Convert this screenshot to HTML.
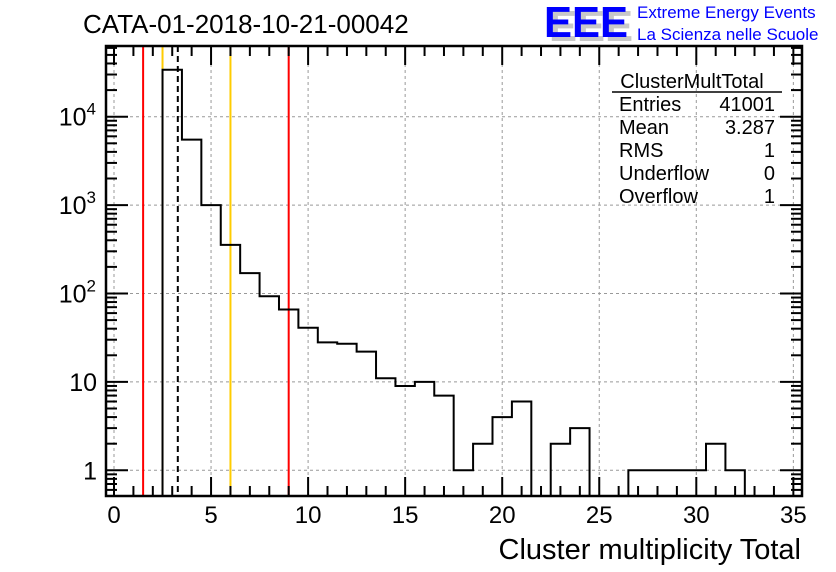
<!DOCTYPE html>
<html><head><meta charset="utf-8"><style>
html,body{margin:0;padding:0;background:#fff;}
svg{display:block;font-family:"Liberation Sans",Arial,sans-serif;}
</style></head><body>
<svg id="chart" width="836" height="572" viewBox="0 0 836 572">
<text x="83" y="33" font-size="26" fill="#000">CATA-01-2018-10-21-00042</text>
<g>
<text x="549" y="41" font-size="44" font-weight="bold" fill="#c8c8c8" textLength="84" lengthAdjust="spacingAndGlyphs">EEE</text>
<text x="544" y="37" font-size="44" font-weight="bold" fill="#0000ff" textLength="84" lengthAdjust="spacingAndGlyphs">EEE</text>
<text x="637" y="18" font-size="17" fill="#0000ff">Extreme Energy Events</text>
<text x="637" y="40" font-size="17" fill="#0000ff">La Scienza nelle Scuole</text>
</g>
<g id="grid"></g>
<g id="vlines"></g>
<g id="hist"></g>
<g id="axes"></g>
<g font-size="20" fill="#000">
<text x="692" y="88" text-anchor="middle">ClusterMultTotal</text>
<line x1="612" y1="92" x2="782" y2="92" stroke="#000" stroke-width="1.5"/>
<text x="619" y="111">Entries</text><text x="775" y="111" text-anchor="end">41001</text>
<text x="619" y="134">Mean</text><text x="775" y="134" text-anchor="end">3.287</text>
<text x="619" y="157">RMS</text><text x="775" y="157" text-anchor="end">1</text>
<text x="619" y="180">Underflow</text><text x="775" y="180" text-anchor="end">0</text>
<text x="619" y="203">Overflow</text><text x="775" y="203" text-anchor="end">1</text>
</g>
<text x="801" y="559" font-size="29" text-anchor="end">Cluster multiplicity Total</text>
</svg>
<script>
const binLow = [2.5,3.5,4.5,5.5,6.5,7.5,8.5,9.5,10.5,11.5,12.5,13.5,14.5,15.5,16.5,17.5,18.5,19.5,20.5,21.5,22.5,23.5,24.5,25.5,26.5,27.5,28.5,29.5,30.5,31.5,32.5];
const counts = [34000,5500,1000,355,170,93,66,41,28,27,22,11,9,10,7,1,2,4,6,0,2,3,0,0,1,1,1,1,2,1,0];
const xTicks = [0,5,10,15,20,25,30,35];
const yTicks = [1,10,100,1000,10000];
const yTickLabels = ["1","10","10²","10³","10⁴"];
const markerX = [1.5,2.5,3.287,6,9];
const markerColor = ["#ff0000","#ffcc00","#000","#ffcc00","#ff0000"];

const L=106,R=802,T=46,B=496;
const x0=114, xu=19.41;
function xs(v){return x0+v*xu;}
const y1=470.3, dec=88.4;
function ys(v){return y1-Math.log10(v)*dec;}
const NS="http://www.w3.org/2000/svg";
function mk(tag,attrs,parent){const e=document.createElementNS(NS,tag);for(const k in attrs)e.setAttribute(k,attrs[k]);parent.appendChild(e);return e;}
const grid=document.getElementById('grid'),axes=document.getElementById('axes'),hist=document.getElementById('hist'),vl=document.getElementById('vlines');

xTicks.forEach(v=>{const X=xs(v);
 if(X>L+2&&X<R-2){const g=mk('line',{x1:X,y1:T,x2:X,y2:B,stroke:'#999','stroke-dasharray':'3,3','stroke-width':1},grid);
 
 }
});
yTicks.forEach(v=>{const Y=ys(v);
 const g=mk('line',{x1:L,y1:Y,x2:R,y2:Y,stroke:'#999','stroke-dasharray':'3,3','stroke-width':1},grid);
 
 
});

markerX.forEach((v,i)=>{
 const a={x1:xs(v),y1:T,x2:xs(v),y2:B,stroke:markerColor[i],'stroke-width':2};
 if(markerColor[i]==='#000')a['stroke-dasharray']='6,4';
 const l=mk('line',a,vl);
 
 
});

let d='M'+xs(binLow[0])+','+B;
binLow.forEach((lo,i)=>{
 const v=counts[i]>0?ys(counts[i]):B;
 d+=' L'+xs(lo)+','+v+' L'+xs(lo+1)+','+v;
});
d+=' L'+xs(binLow[binLow.length-1]+1)+','+B;
const p=mk('path',{d:d,fill:'none',stroke:'#000','stroke-width':2},hist);



const fr=mk('rect',{x:L,y:T,width:R-L,height:B-T,fill:'none',stroke:'#000','stroke-width':2.5},axes);


for(let v=0;v<=35.01;v+=1){const X=xs(v);const big=(v%5===0);const len=big?19:10;
 mk('line',{x1:X,y1:B,x2:X,y2:B-len,stroke:'#000','stroke-width':2},axes);
 mk('line',{x1:X,y1:T,x2:X,y2:T+len,stroke:'#000','stroke-width':2},axes);
}
xTicks.forEach(v=>{const t=mk('text',{x:xs(v),y:523,'font-size':24,'text-anchor':'middle'},axes);t.textContent=v;
 
 });
for(let e=-1;e<=5;e++){for(let m=1;m<10;m++){const v=m*Math.pow(10,e);const Y=ys(v);if(Y<T||Y>B)continue;
 const len=m===1?22:11;
 mk('line',{x1:L,y1:Y,x2:L+len,y2:Y,stroke:'#000','stroke-width':2},axes);
 mk('line',{x1:R,y1:Y,x2:R-len,y2:Y,stroke:'#000','stroke-width':2},axes);
}}
yTicks.forEach((v,i)=>{const t=mk('text',{x:97,y:ys(v)+9,'font-size':25,'text-anchor':'end'},axes);
 const lab=yTickLabels[i];
 if(lab.length===3&&lab.startsWith('10')){t.textContent='10';const s=mk('tspan',{dy:-11,'font-size':17},t);s.textContent=['²','³','⁴'].indexOf(lab[2])+2;t.setAttribute('x',96);}
 else t.textContent=lab;
 
 });
</script>
</body></html>
